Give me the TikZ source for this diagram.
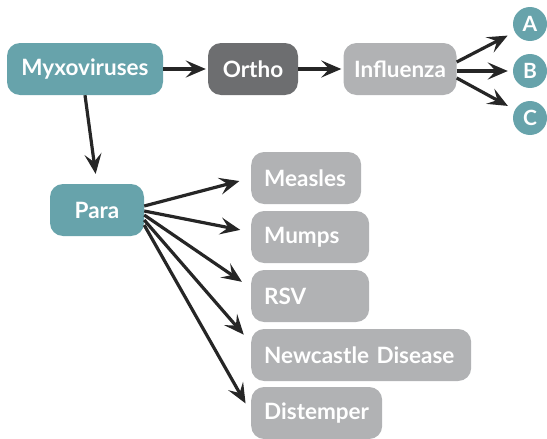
\documentclass[tikz,border=0pt]{standalone}
\usepackage{fontspec}
\setmainfont{Lato}
\usepackage{xcolor}
\usetikzlibrary{arrows.meta}

\definecolor{teal}{HTML}{67A3AB}
\definecolor{darkgrey}{HTML}{6D6E70}
\definecolor{lightgrey}{HTML}{B1B2B4}
\definecolor{arrowcol}{HTML}{262626}

\tikzset{
        box/.style={rounded corners=13pt, minimum height=52pt, text=white, font=\fontsize{22.5}{26}\selectfont\bfseries, inner sep=0pt},
        gbox/.style={box, fill=lightgrey, anchor=west, align=left, inner xsep=13pt},
        letter/.style={circle, fill=teal, minimum size=34pt, inner sep=0pt, text=white, font=\fontsize{21}{24}\selectfont\bfseries},
        arr/.style={-{Stealth[length=20pt, width=17pt, inset=8pt]}, line width=3.2pt, draw=arrowcol}
}

\begin{document}
\begin{tikzpicture}[x=1pt, y=-1pt]
        \useasboundingbox (0, 0) rectangle (547, 439);

        \node[box, fill=teal, minimum width=156pt] (myx) at (85, 69) {Myxoviruses};
        \node[box, fill=darkgrey, minimum width=90pt] (ortho) at (253, 69) {Ortho};
        \node[box, fill=lightgrey, minimum width=113pt] (flu) at (400, 69) {Influenza};

        \node[letter] (a) at (530, 24) {A};
        \node[letter] (b) at (530, 71) {B};
        \node[letter] (c) at (530, 118) {C};

        \node[box, fill=teal, minimum width=94pt] (para) at (97, 210) {Para};

        \node[gbox, text width=84pt] (measles) at (251, 178) {Measles};
        \node[gbox, text width=92pt] (mumps) at (251, 237) {Mumps};
        \node[gbox, text width=92pt] (rsv) at (251, 296) {RSV};
        \node[gbox, text width=194pt] (newc) at (251, 355) {Newcastle Disease};
        \node[gbox, text width=105pt] (dist) at (251, 413) {Distemper};

        \draw[arr, shorten >=2pt] (myx) -- (ortho);
        \draw[arr, shorten >=2pt] (ortho) -- (flu);
        \draw[arr, shorten >=10pt] (myx.south) -- (para.north);

        \draw[arr, shorten >=8pt] ([yshift=7pt]flu.east) -- (a);
        \draw[arr, shorten >=5pt] ([yshift=-2pt]flu.east) -- (b);
        \draw[arr, shorten >=8pt] ([yshift=-9pt]flu.east) -- (c);

        \draw[arr, shorten >=12pt] ([yshift=4pt]para.east) -- (measles.west);
        \draw[arr, shorten >=11pt] ([yshift=-1pt]para.east) -- ([yshift=5pt]mumps.west);
        \draw[arr, shorten >=11pt] ([yshift=-5pt]para.east) -- ([yshift=8pt]rsv.west);
        \draw[arr, shorten >=11pt] ([yshift=-10pt]para.east) -- ([yshift=12pt]newc.west);
        \draw[arr, shorten >=11pt] ([yshift=-15pt]para.east) -- (dist.west);
\end{tikzpicture}
\end{document}
